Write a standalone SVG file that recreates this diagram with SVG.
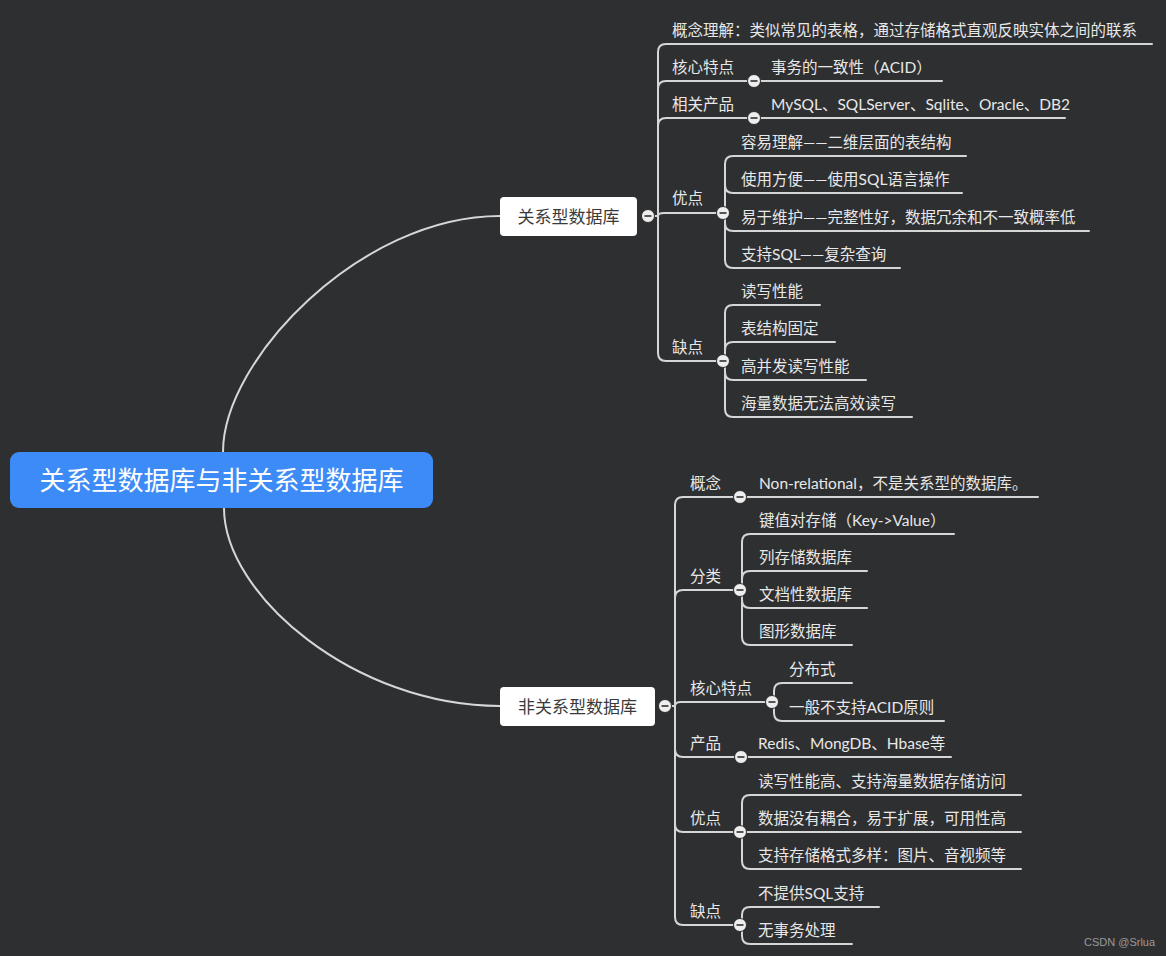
<svg xmlns="http://www.w3.org/2000/svg" width="1166" height="956" viewBox="0 0 1166 956">
<style>
.bg{fill:#2e2f31}
.ln{fill:none;stroke:#d6d6d6;stroke-width:2;stroke-linecap:round}
.t{font-family:Lato,"Noto Sans CJK SC",sans-serif;font-size:15.5px;fill:#e8e8e8}
.nt{font-family:"Noto Sans CJK SC","Noto Sans",sans-serif;font-size:17px;fill:#3a3a3a;text-anchor:middle}
.ct{font-family:"Noto Sans CJK SC","Noto Sans",sans-serif;font-size:26px;fill:#ffffff;text-anchor:middle}
.nd{fill:#ffffff}
.wm{font-family:"Liberation Sans",sans-serif;font-size:11px;fill:#9a9a9a}
</style>
<defs>
<g id="col"><circle r="6.5" fill="#eeeeee" stroke="#2e2f31" stroke-width="1"/><line x1="-3.5" y1="0" x2="3.5" y2="0" stroke="#555" stroke-width="2"/></g>
</defs>
<rect class="bg" x="0" y="0" width="1166" height="956"/>

<g id="connectors">
<path class="ln" d="M223,452 C223,360 360,216 500,216"/>
<path class="ln" d="M224,508 C224,595 355,706 500,706"/>
<path class="ln" d="M654,216 L658,216"/>
<path class="ln" d="M658,216 L658,52 Q658,44 666,44 L1152,44"/>
<path class="ln" d="M658,216 L658,89 Q658,81 666,81 L942,81"/>
<path class="ln" d="M658,216 L658,126 Q658,118 666,118 L1065,118"/>
<path class="ln" d="M658,216 Q658,213 664,213 L723,213"/>
<path class="ln" d="M658,216 L658,353 Q658,361 666,361 L723,361"/>
<path class="ln" d="M723,213 L725,213 L725,164 Q725,156 733,156 L966,156"/>
<path class="ln" d="M725,213 L725,185 Q725,193 733,193 L962,193"/>
<path class="ln" d="M725,213 L725,223 Q725,231 733,231 L1089,231"/>
<path class="ln" d="M725,213 L725,260 Q725,268 733,268 L900,268"/>
<path class="ln" d="M723,361 L725,361 L725,313 Q725,305 733,305 L820,305"/>
<path class="ln" d="M725,361 L725,350 Q725,342 733,342 L835,342"/>
<path class="ln" d="M725,361 L725,372 Q725,380 733,380 L866,380"/>
<path class="ln" d="M725,361 L725,409 Q725,417 733,417 L912,417"/>
<path class="ln" d="M672,706 L675,706"/>
<path class="ln" d="M675,706 L675,505 Q675,497 683,497 L1038,497"/>
<path class="ln" d="M675,706 L675,598 Q675,590 683,590 L740,590"/>
<path class="ln" d="M675,706 Q675,702 681,702 L772,702"/>
<path class="ln" d="M675,706 L675,749 Q675,757 683,757 L951,757"/>
<path class="ln" d="M675,706 L675,824 Q675,832 683,832 L740,832"/>
<path class="ln" d="M675,706 L675,917 Q675,925 683,925 L740,925"/>
<path class="ln" d="M740,590 L742,590 L742,542 Q742,534 750,534 L954,534"/>
<path class="ln" d="M742,590 L742,579 Q742,571 750,571 L867,571"/>
<path class="ln" d="M742,590 L742,600 Q742,608 750,608 L867,608"/>
<path class="ln" d="M742,590 L742,637 Q742,645 750,645 L852,645"/>
<path class="ln" d="M772,702 L774,702 L774,691 Q774,683 782,683 L852,683"/>
<path class="ln" d="M774,702 L774,713 Q774,721 782,721 L944,721"/>
<path class="ln" d="M740,832 L742,832 L742,803 Q742,795 750,795 L1021,795"/>
<path class="ln" d="M740,832 L1021,832"/>
<path class="ln" d="M742,832 L742,861 Q742,869 750,869 L1021,869"/>
<path class="ln" d="M740,925 L742,925 L742,915 Q742,907 750,907 L879,907"/>
<path class="ln" d="M742,925 L742,936 Q742,944 750,944 L852,944"/>
</g>

<g id="root">
<rect x="10" y="452" width="423" height="56" rx="9" fill="#3d8bf6"/>
<text class="ct" x="221.5" y="490">关系型数据库与非关系型数据库</text>
</g>

<g id="rel">
<rect class="nd" x="500" y="197" width="137" height="39" rx="4"/>
<text class="nt" x="568.5" y="222.5">关系型数据库</text>
<use href="#col" x="648" y="216"/>
</g>
<g id="rel-concept"><text class="t" x="672" y="36">概念理解：类似常见的表格，通过存储格式直观反映实体之间的联系</text></g>
<g id="rel-core">
<text class="t" x="672" y="73">核心特点</text>
<use href="#col" x="754" y="81"/>
<text class="t" x="771" y="73">事务的一致性（ACID）</text>
</g>
<g id="rel-products">
<text class="t" x="672" y="110">相关产品</text>
<use href="#col" x="754" y="118"/>
<text class="t" x="771" y="110">MySQL、SQLServer、Sqlite、Oracle、DB2</text>
</g>
<g id="rel-pros">
<text class="t" x="672" y="204">优点</text>
<use href="#col" x="723" y="213"/>
<text class="t" x="741" y="148">容易理解——二维层面的表结构</text>
<text class="t" x="741" y="185">使用方便——使用SQL语言操作</text>
<text class="t" x="741" y="223">易于维护——完整性好，数据冗余和不一致概率低</text>
<text class="t" x="741" y="260">支持SQL——复杂查询</text>
</g>
<g id="rel-cons">
<text class="t" x="672" y="353">缺点</text>
<use href="#col" x="723" y="361"/>
<text class="t" x="741" y="297">读写性能</text>
<text class="t" x="741" y="334">表结构固定</text>
<text class="t" x="741" y="372">高并发读写性能</text>
<text class="t" x="741" y="409">海量数据无法高效读写</text>
</g>

<g id="nonrel">
<rect class="nd" x="500" y="687" width="155" height="39" rx="4"/>
<text class="nt" x="577.5" y="712.5">非关系型数据库</text>
<use href="#col" x="665" y="706"/>
</g>
<g id="nr-concept">
<text class="t" x="690" y="489">概念</text>
<use href="#col" x="740" y="497"/>
<text class="t" x="759" y="489">Non-relational，不是关系型的数据库。</text>
</g>
<g id="nr-class">
<text class="t" x="690" y="582">分类</text>
<use href="#col" x="740" y="590"/>
<text class="t" x="759" y="526">键值对存储（Key-&gt;Value）</text>
<text class="t" x="759" y="563">列存储数据库</text>
<text class="t" x="759" y="600">文档性数据库</text>
<text class="t" x="759" y="637">图形数据库</text>
</g>
<g id="nr-core">
<text class="t" x="690" y="694">核心特点</text>
<use href="#col" x="772" y="702"/>
<text class="t" x="789" y="675">分布式</text>
<text class="t" x="789" y="713">一般不支持ACID原则</text>
</g>
<g id="nr-products">
<text class="t" x="690" y="749">产品</text>
<use href="#col" x="741" y="757"/>
<text class="t" x="758" y="749">Redis、MongDB、Hbase等</text>
</g>
<g id="nr-pros">
<text class="t" x="690" y="824">优点</text>
<use href="#col" x="740" y="832"/>
<text class="t" x="758" y="787">读写性能高、支持海量数据存储访问</text>
<text class="t" x="758" y="824">数据没有耦合，易于扩展，可用性高</text>
<text class="t" x="758" y="861">支持存储格式多样：图片、音视频等</text>
</g>
<g id="nr-cons">
<text class="t" x="690" y="917">缺点</text>
<use href="#col" x="740" y="925"/>
<text class="t" x="758" y="899">不提供SQL支持</text>
<text class="t" x="758" y="936">无事务处理</text>
</g>
<text class="wm" x="1084" y="946">CSDN @Srlua</text>
</svg>
